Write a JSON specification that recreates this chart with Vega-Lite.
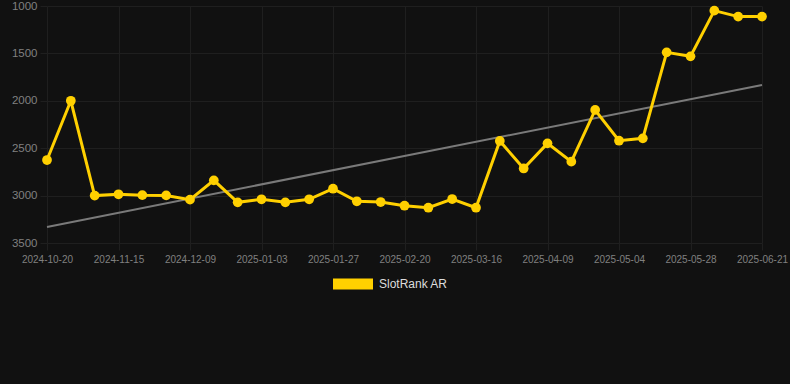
{
  "$schema": "https://vega.github.io/schema/vega-lite/v6.json",
  "width": 743,
  "height": 237,
  "autosize": {"type": "none"},
  "padding": {"left": 47, "top": 6, "right": 0, "bottom": 141},
  "background": "#111111",
  "config": {
    "view": {"stroke": null},
    "font": "Liberation Sans",
    "axis": {"gridColor": "#1f1f1f", "tickColor": "#1f1f1f", "domain": false, "labelFont": "Liberation Sans"}
  },
  "datasets": {
    "ranks": [
      {"date": "2024-10-20", "rank": 2625, "series": "SlotRank AR"},
      {"date": "2024-10-28", "rank": 2000, "series": "SlotRank AR"},
      {"date": "2024-11-06", "rank": 3000, "series": "SlotRank AR"},
      {"date": "2024-11-15", "rank": 2986, "series": "SlotRank AR"},
      {"date": "2024-11-23", "rank": 2995, "series": "SlotRank AR"},
      {"date": "2024-12-01", "rank": 2998, "series": "SlotRank AR"},
      {"date": "2024-12-09", "rank": 3043, "series": "SlotRank AR"},
      {"date": "2024-12-17", "rank": 2839, "series": "SlotRank AR"},
      {"date": "2024-12-26", "rank": 3071, "series": "SlotRank AR"},
      {"date": "2025-01-03", "rank": 3039, "series": "SlotRank AR"},
      {"date": "2025-01-11", "rank": 3071, "series": "SlotRank AR"},
      {"date": "2025-01-19", "rank": 3039, "series": "SlotRank AR"},
      {"date": "2025-01-27", "rank": 2927, "series": "SlotRank AR"},
      {"date": "2025-02-04", "rank": 3060, "series": "SlotRank AR"},
      {"date": "2025-02-12", "rank": 3068, "series": "SlotRank AR"},
      {"date": "2025-02-20", "rank": 3107, "series": "SlotRank AR"},
      {"date": "2025-02-28", "rank": 3128, "series": "SlotRank AR"},
      {"date": "2025-03-08", "rank": 3036, "series": "SlotRank AR"},
      {"date": "2025-03-16", "rank": 3128, "series": "SlotRank AR"},
      {"date": "2025-03-24", "rank": 2424, "series": "SlotRank AR"},
      {"date": "2025-04-01", "rank": 2714, "series": "SlotRank AR"},
      {"date": "2025-04-09", "rank": 2449, "series": "SlotRank AR"},
      {"date": "2025-04-17", "rank": 2642, "series": "SlotRank AR"},
      {"date": "2025-04-26", "rank": 2097, "series": "SlotRank AR"},
      {"date": "2025-05-04", "rank": 2421, "series": "SlotRank AR"},
      {"date": "2025-05-12", "rank": 2396, "series": "SlotRank AR"},
      {"date": "2025-05-20", "rank": 1489, "series": "SlotRank AR"},
      {"date": "2025-05-28", "rank": 1531, "series": "SlotRank AR"},
      {"date": "2025-06-05", "rank": 1049, "series": "SlotRank AR"},
      {"date": "2025-06-13", "rank": 1112, "series": "SlotRank AR"},
      {"date": "2025-06-21", "rank": 1112, "series": "SlotRank AR"}
    ],
    "trend": [
      {"date": "2024-10-20", "rank": 3331},
      {"date": "2025-06-21", "rank": 1833}
    ]
  },
  "encoding": {
    "x": {
      "field": "date",
      "type": "ordinal",
      "sort": null,
      "scale": {"type": "point", "range": [0, 715], "padding": 0, "domain": ["2024-10-20","2024-10-28","2024-11-06","2024-11-15","2024-11-23","2024-12-01","2024-12-09","2024-12-17","2024-12-26","2025-01-03","2025-01-11","2025-01-19","2025-01-27","2025-02-04","2025-02-12","2025-02-20","2025-02-28","2025-03-08","2025-03-16","2025-03-24","2025-04-01","2025-04-09","2025-04-17","2025-04-26","2025-05-04","2025-05-12","2025-05-20","2025-05-28","2025-06-05","2025-06-13","2025-06-21"]},
      "axis": {
        "title": null,
        "values": ["2024-10-20","2024-11-15","2024-12-09","2025-01-03","2025-01-27","2025-02-20","2025-03-16","2025-04-09","2025-05-04","2025-05-28","2025-06-21"],
        "labelAngle": 0,
        "labelFontSize": 10,
        "labelColor": "#808080",
        "tickSize": 7,
        "labelPadding": 4,
        "grid": true
      }
    },
    "y": {
      "field": "rank",
      "type": "quantitative",
      "scale": {"domain": [1000, 3500], "reverse": true, "nice": false, "zero": false},
      "axis": {
        "title": null,
        "values": [1000, 1500, 2000, 2500, 3000, 3500],
        "format": "d",
        "labelFontSize": 11.5,
        "labelColor": "#808080",
        "tickSize": 7,
        "labelPadding": 3,
        "grid": true
      }
    }
  },
  "layer": [
    {
      "data": {"name": "trend"},
      "mark": {"type": "line", "color": "#7a7a7a", "strokeWidth": 2}
    },
    {
      "data": {"name": "ranks"},
      "mark": {"type": "line", "strokeWidth": 3},
      "encoding": {
        "color": {
          "field": "series",
          "type": "nominal",
          "scale": {"range": ["#ffd000"]},
          "legend": {
            "title": null,
            "orient": "none",
            "legendX": 286,
            "legendY": 258,
            "padding": 0,
            "symbolType": "M-1,-0.275L1,-0.275L1,0.275L-1,0.275Z",
            "symbolSize": 1600,
            "symbolFillColor": "#ffd000",
            "symbolStrokeColor": "#ffd000",
            "symbolStrokeWidth": 0,
            "labelFontSize": 12,
            "labelColor": "#dddddd",
            "labelOffset": 6,
            "labelFont": "Liberation Sans"
          }
        }
      }
    },
    {
      "data": {"name": "ranks"},
      "mark": {"type": "point", "filled": true, "opacity": 1, "size": 95, "color": "#ffd000"}
    }
  ]
}
